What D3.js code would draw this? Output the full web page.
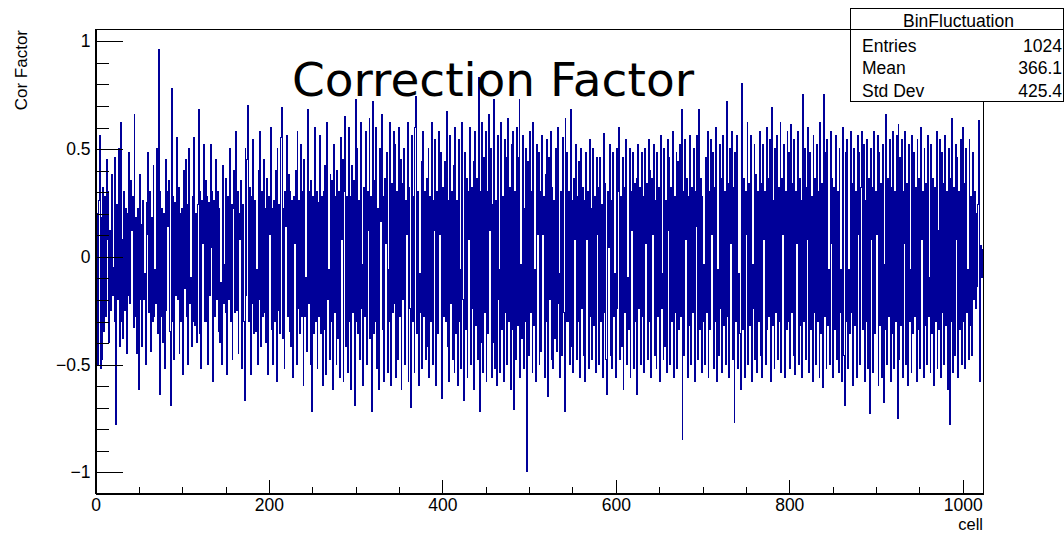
<!DOCTYPE html>
<html>
<head>
<meta charset="utf-8">
<script src="https://cdn.jsdelivr.net/npm/d3@7"></script>
<style>
  body { margin: 0; background: #fff; }
  svg { display: block; }
</style>
</head>
<body>
<div id="chart"></div>
<script>
// Correction factor per cell, in hundredths (256 cells per array)
const cells0to255 = [
  25,-55,20,-50,26,56,-52,18, -48,32,-35,28,-28,45,8,30, -40,12,-25,38,-18,-5,-30,46, -78,24,-20,50,-42,62,-30,8,
  -38,30,-25,22,-45,20,-18,48, -22,35,12,28,-33,66,-28,18, -45,22,-62,38,-20,15,-42,26, -20,-8,-50,25,10,48,-26,30,
  -44,18,-30,42,-28,-6,-22,50, -36,96,-64,30,-28,22,-40,20, -52,45,-25,30,14,35,-35,-69, 78,-30,28,-48,25,-18,55,-20,
  32,-45,20,-30,22,-55,40,-15, 45,-28,24,-50,50,-22,-10,-42, 28,-30,55,-32,20,-40,24,68, -36,30,-52,26,6,52,-30,35,
  -30,28,-50,25,-18,52,4,30, -58,26,-28,45,-20,30,-35,22, -40,-12,-50,42,-22,-4,-26,36, -55,28,-20,50,-30,24,-48,22,
  40,-26,58,-25,30,-45,20,8, 35,-52,24,-30,-67,50,-18,45, 70,-30,32,-55,28,-22,54,-36, 26,-35,-6,-50,40,-20,58,-42,
  30,-28,45,-26,22,-40,36,-55, 28,10,60,-34,22,-50,26,-30, 40,-58,50,-25,24,-36,55,69, -38,22,-52,30,14,56,-28,38,
  -35,30,-42,26,-56,28,6,40, -50,58,-24,26,-36,52,-28,30, -60,45,-28,-10,-44,68,-22,30, -50,35,-72,28,-36,60,-30,30
];
const cells256to511 = [
  -52,25,-28,56,-36,28,-60,30, -34,42,-55,62,-20,-6,-48,38, -30,35,-62,52,-26,28,-50,40, -38,30,-56,55,8,45,-58,30,
  65,-42,28,-54,60,-30,28,-62, 42,-26,35,-69,73,-30,50,-36, 26,-48,62,-24,-4,-60,32,-28, 58,-50,30,12,64,-38,28,-72,
  72,-36,35,-30,60,-52,22,-62, 50,16,66,-34,28,-58,36,6, 48,-54,-6,-30,62,-60,34,-26, 58,-22,52,-56,30,-48,60,-28,
  45,-62,34,-20,50,-50,26,10, 62,-58,32,-24,-70,56,-30,28, -54,60,74,-36,30,-60,-8,-26, 44,-52,58,-28,30,-48,36,-42,
  50,-56,28,-30,62,-50,26,12, 54,-60,30,-36,58,10,48,-56, -66,32,-28,44,-30,67,-42,26, -58,56,-22,30,-48,42,-54,60,
  -36,26,-60,54,-30,-6,-52,62, -20,-67,48,-34,36,-56,30,8, 60,-50,32,-24,44,-62,58,-32, 36,-48,83,-72,30,-40,62,-54,
  46,-26,58,-58,30,-36,66,12, 50,-56,24,-40,73,-52,26,-60, 56,-20,-6,-54,62,-34,28,-58, 54,-26,46,-50,64,-30,32,-62,
  52,-34,58,-71,30,-48,60,-32, 46,73,-56,-4,-38,56,-52,22, -30,50,-100,44,-46,58,-26,30, -54,62,-32,-6,-58,52,10,48
];
const cells512to767 = [
  -50,30,-44,56,10,28,-56,38, -30,54,-65,46,-20,58,-48,32, -52,26,-38,50,-44,60,-22,-8, -56,30,-46,55,-26,-72,64,-30,
  48,-30,30,-50,68,-42,26,-54, 36,8,52,-48,28,-30,44,-56, 50,-24,32,-46,26,-58,48,8, 30,-52,54,-28,22,-48,50,-32,
  28,-54,46,10,32,-50,46,-30, 24,-56,57,-26,34,-48,-64,30, 4,52,-46,26,-52,48,-28,-8, -56,50,-24,30,60,-48,28,-42,
  46,-62,32,-26,54,-50,-10,-34, 50,-56,30,12,48,-52,34,-30, 36,-64,52,-24,32,-50,48,-28, 28,-54,50,6,34,-48,54,-30,
  40,-56,36,10,52,-46,26,-52, 48,-28,32,-58,56,-24,-8,-48, 50,-42,26,-54,54,12,46,-50, 32,-30,58,-56,28,-26,48,-52,
  44,-34,52,-28,68,-85,30,-46, 54,8,36,-56,28,-32,56,-50, 32,-26,50,-58,30,14,56,-48, 68,-34,36,-54,28,-30,-4,-50,
  46,-26,58,-56,30,-34,54,10, 48,-52,32,-30,60,-58,-6,-46, 52,-24,36,-54,56,-32,30,-50, 72,-28,34,-56,50,6,58,-48,
  32,-77,48,-30,56,-52,-8,-36, -62,54,80,-34,36,-56,30,10, 62,-50,34,-32,56,-58,-4,-24, 52,-48,38,-54,30,-30,58,-46
];
const cells768to1023 = [
  34,-56,52,8,30,-50,60,-34, 36,-28,54,-58,69,-32,26,-52, 50,-26,56,-48,32,-30,62,-54, 36,10,52,-56,30,-34,58,-30,
  48,-52,61,-26,34,-46,54,-55, 30,6,58,-50,36,-32,26,-56, 75,-30,50,-48,32,8,60,-54, 48,-34,28,-58,56,-26,36,-50,
  52,-30,30,-56,62,-36,34,-61, 75,-28,48,-52,54,-32,-6,-50, 58,6,36,-56,32,-34,56,-48, 30,-54,50,-26,-6,-58,60,-46,
  -69,48,-30,54,-52,-6,-36,58, -26,34,-60,50,-32,30,-56,56, 10,48,-50,32,58,-34,52,-58, 26,-30,54,-52,36,-73,50,8,
  32,-54,58,-36,30,10,56,-60, 48,-32,34,-56,52,-68,-4,-34, 66,-50,36,-28,54,-58,32,-36, 58,-52,30,-30,56,-75,61,-48,
  46,-32,54,-56,30,6,58,-50, 34,-60,52,-30,-6,-54,56,-36, 48,-28,32,-58,54,-34,36,-52, 60,8,30,-56,50,-32,34,-50,
  56,-28,-10,-54,52,-36,36,-60, 32,-30,58,-52,12,-34,54,-56, 48,-26,34,-50,56,-32,30,-62, 50,-78,36,-30,64,-54,32,-46,
  52,8,46,-56,30,-34,54,-50, 60,-30,34,-52,50,-26,-6,-48, 54,-32,28,-46,48,-20,30,-24, 20,-14,24,63,-58,5,-10,3
];

const xMajorTicks = [0, 200, 400, 600, 800, 1000];
const yMajorTicks = [-1, -0.5, 0, 0.5, 1];
const statsTitle = 'BinFluctuation';
const statsLabels = ['Entries', 'Mean', 'Std Dev'];
const statsValues = ['1024', '366.1', '425.4'];

const corFactor = [].concat(cells0to255, cells256to511, cells512to767, cells768to1023).map(v => v / 100);

const width = 1064, height = 533;
const frame = {left: 95, right: 983, top: 29, bottom: 493};
const font = '"Liberation Sans", Arial, Helvetica, sans-serif';
const histColor = '#000099';

const x = d3.scaleLinear().domain([0, corFactor.length]).range([frame.left, frame.right]);
const y = d3.scaleLinear().domain([-1.098, 1.055]).range([frame.bottom, frame.top]);

const svg = d3.select('#chart').append('svg')
  .attr('width', width)
  .attr('height', height);

svg.append('clipPath').attr('id', 'frame-clip')
  .append('rect')
  .attr('x', frame.left).attr('y', frame.top)
  .attr('width', frame.right - frame.left).attr('height', frame.bottom - frame.top);

// the histogram, drawn as a step outline like ROOT's HIST option
const steps = corFactor.map((v, i) => [i, v]);
steps.push([corFactor.length, corFactor[corFactor.length - 1]]);

const histLine = d3.line()
  .x(d => x(d[0]))
  .y(d => y(d[1]))
  .curve(d3.curveStepAfter);

svg.append('path')
  .datum(steps)
  .attr('clip-path', 'url(#frame-clip)')
  .attr('d', histLine)
  .attr('fill', 'none')
  .attr('stroke', histColor)
  .attr('stroke-width', 1)
  .attr('shape-rendering', 'crispEdges');

// frame
svg.append('rect')
  .attr('x', frame.left + 0.5).attr('y', frame.top + 0.5)
  .attr('width', frame.right - frame.left).attr('height', frame.bottom - frame.top)
  .attr('fill', 'none')
  .attr('stroke', '#000')
  .attr('stroke-width', 1)
  .attr('shape-rendering', 'crispEdges');

// ###
// AXES (ticks point into the frame)
// ###
const fmt = d3.format('~g');

const xAxis = d3.axisBottom(x)
  .tickValues(xMajorTicks)
  .tickSize(-14).tickSizeOuter(0)
  .tickPadding(5.5)
  .tickFormat(fmt);

const xMinor = d3.axisBottom(x)
  .tickValues(d3.range(0, corFactor.length + 1, 50).filter(v => v % 200 !== 0))
  .tickSize(-7).tickSizeOuter(0)
  .tickFormat('');

const yAxis = d3.axisLeft(y)
  .tickValues(yMajorTicks)
  .tickSize(-27).tickSizeOuter(0)
  .tickPadding(5)
  .tickFormat(fmt);

const yMinor = d3.axisLeft(y)
  .tickValues(d3.range(-10, 11).filter(v => v % 5 !== 0).map(v => v / 10))
  .tickSize(-13).tickSizeOuter(0)
  .tickFormat('');

function styleAxis(g) {
  g.attr('font-family', font).attr('font-size', 17.5);
  g.selectAll('line, path').attr('stroke', '#000').attr('shape-rendering', 'crispEdges');
  g.selectAll('text').attr('fill', '#000');
}

svg.append('g').attr('transform', `translate(0.5,${frame.bottom + 0.5})`).call(xMinor).call(styleAxis);
svg.append('g').attr('transform', `translate(0.5,${frame.bottom + 0.5})`).call(xAxis).call(styleAxis);
svg.append('g').attr('transform', `translate(${frame.left + 0.5},0.5)`).call(yMinor).call(styleAxis);
svg.append('g').attr('transform', `translate(${frame.left + 0.5},0.5)`).call(yAxis).call(styleAxis);

// axis titles
svg.append('text')
  .attr('x', frame.right).attr('y', 530)
  .attr('text-anchor', 'end')
  .attr('font-family', font).attr('font-size', 16.5)
  .text('cell');

svg.append('text')
  .attr('transform', `translate(27,${frame.top + 1}) rotate(-90)`)
  .attr('text-anchor', 'end')
  .attr('font-family', font).attr('font-size', 17)
  .text('Cor Factor');

// chart title
svg.append('text')
  .attr('x', 493).attr('y', 96)
  .attr('text-anchor', 'middle')
  .attr('font-family', '"DejaVu Sans", sans-serif').attr('font-size', 47)
  .text('Correction Factor');

// ###
// STATS BOX
// ###
const box = {x: 850, y: 8, w: 213, h: 93, head: 20.5, row: 22.7};
const stats = svg.append('g');

stats.append('rect')
  .attr('x', box.x + 0.5).attr('y', box.y + 0.5)
  .attr('width', box.w).attr('height', box.h)
  .attr('fill', '#fff').attr('stroke', '#000')
  .attr('shape-rendering', 'crispEdges');

stats.append('line')
  .attr('x1', box.x).attr('x2', box.x + box.w)
  .attr('y1', box.y + box.head + 0.5).attr('y2', box.y + box.head + 0.5)
  .attr('stroke', '#000').attr('shape-rendering', 'crispEdges');

stats.append('text')
  .attr('x', box.x + box.w / 2 + 2).attr('y', box.y + 18.5)
  .attr('text-anchor', 'middle')
  .attr('font-family', font).attr('font-size', 17.5)
  .text(statsTitle);

stats.selectAll('.stat-label')
  .data(statsLabels)
  .enter().append('text')
  .classed('stat-label', true)
  .attr('x', box.x + 12)
  .attr('y', (d, i) => box.y + 43.5 + i * box.row)
  .attr('font-family', font).attr('font-size', 17.5)
  .text(d => d);

stats.selectAll('.stat-value')
  .data(statsValues)
  .enter().append('text')
  .classed('stat-value', true)
  .attr('x', box.x + box.w - 1)
  .attr('y', (d, i) => box.y + 43.5 + i * box.row)
  .attr('text-anchor', 'end')
  .attr('font-family', font).attr('font-size', 17.5)
  .text(d => d);
</script>
</body>
</html>
